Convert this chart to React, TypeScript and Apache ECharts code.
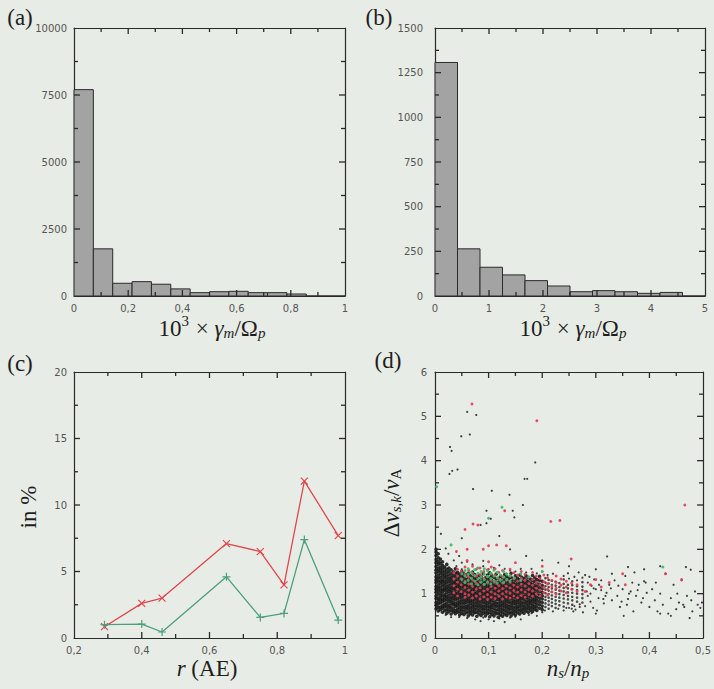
import React, { useEffect, useRef } from "react";
import * as echarts from "echarts";

// ---------- data ----------
const binWidthA = 1 / 14;
const countsA = [7700, 1760, 475, 535, 440, 265, 125, 160, 175, 125, 125, 75, 0, 0];
const binWidthB = 5 / 12;
const countsB = [1307, 264, 161, 118, 86, 56, 24, 30, 24, 15, 20, 0];

const rAE = [0.29, 0.4, 0.46, 0.65, 0.75, 0.82, 0.88, 0.98];
const redPct = [0.85, 2.6, 3.0, 7.1, 6.5, 4.0, 11.8, 7.7];
const greenPct = [1.0, 1.05, 0.45, 4.6, 1.55, 1.85, 7.4, 1.35];

// panel (d): columns of [x, y-values]
const blackCols: [number, number[]][] = [
  [0.002, [0.66,0.74,0.8,0.89,0.95,1.03,1.1,1.16,1.25,1.31,1.38,1.47,1.53,1.61,1.7,1.77,1.86,1.94,2.0]],
  [0.006, [0.61,0.69,0.77,0.84,0.9,0.99,1.06,1.13,1.2,1.28,1.35,1.42,1.5,1.57,1.66,1.73,1.81,1.9]],
  [0.010, [0.64,0.7,0.79,0.86,0.93,1.0,1.08,1.15,1.23,1.29,1.37,1.45,1.52,1.6,1.69,1.78]],
  [0.014, [0.58,0.67,0.73,0.82,0.88,0.96,1.04,1.1,1.18,1.26,1.32,1.4,1.48,1.56,1.64,1.72]],
  [0.018, [0.62,0.7,0.76,0.85,0.92,0.98,1.07,1.13,1.21,1.28,1.36,1.43,1.51,1.6]],
  [0.022, [0.56,0.64,0.72,0.79,0.87,0.94,1.02,1.09,1.16,1.24,1.31,1.39,1.47,1.55,1.66]],
  [0.026, [0.6,0.68,0.74,0.83,0.9,0.97,1.05,1.12,1.19,1.27,1.34,1.42,1.5,1.58]],
  [0.030, [0.54,0.63,0.7,0.78,0.85,0.92,1.0,1.07,1.14,1.22,1.3,1.37,1.45,1.54]],
  [0.034, [0.59,0.66,0.75,0.81,0.89,0.96,1.03,1.11,1.18,1.25,1.33,1.41,1.49]],
  [0.038, [0.55,0.62,0.71,0.77,0.86,0.93,1.0,1.08,1.15,1.23,1.29,1.38,1.46,1.56]],
  [0.042, [0.58,0.65,0.73,0.8,0.88,0.95,1.02,1.1,1.17,1.24,1.32,1.4,1.48]],
  [0.046, [0.52,0.6,0.68,0.76,0.83,0.91,0.98,1.06,1.13,1.2,1.28,1.36,1.44]],
  [0.050, [0.56,0.64,0.71,0.79,0.86,0.94,1.01,1.08,1.16,1.23,1.31,1.39,1.5]],
  [0.054, [0.53,0.61,0.69,0.77,0.84,0.92,0.99,1.06,1.14,1.21,1.29,1.37,1.45]],
  [0.058, [0.57,0.65,0.72,0.8,0.87,0.95,1.02,1.1,1.17,1.24,1.32,1.42]],
  [0.062, [0.5,0.59,0.67,0.74,0.82,0.89,0.97,1.04,1.11,1.19,1.27,1.35,1.46]],
  [0.066, [0.55,0.63,0.7,0.78,0.85,0.93,1.0,1.07,1.15,1.22,1.3,1.4]],
  [0.070, [0.52,0.6,0.68,0.75,0.83,0.9,0.98,1.05,1.12,1.2,1.28,1.37,1.48]],
  [0.074, [0.57,0.64,0.72,0.79,0.87,0.94,1.01,1.09,1.16,1.24,1.33,1.43]],
  [0.078, [0.49,0.58,0.66,0.73,0.81,0.88,0.96,1.03,1.1,1.18,1.26,1.35]],
  [0.082, [0.54,0.62,0.7,0.77,0.85,0.92,0.99,1.07,1.14,1.22,1.3,1.41]],
  [0.086, [0.51,0.59,0.67,0.74,0.82,0.89,0.97,1.04,1.12,1.2,1.28,1.38]],
  [0.090, [0.56,0.64,0.71,0.79,0.86,0.94,1.01,1.08,1.16,1.24,1.33,1.45]],
  [0.094, [0.5,0.58,0.66,0.73,0.81,0.88,0.96,1.03,1.11,1.19,1.27,1.36]],
  [0.098, [0.55,0.62,0.7,0.77,0.85,0.92,1.0,1.07,1.15,1.23,1.31,1.42]],
  [0.102, [0.48,0.57,0.65,0.72,0.8,0.87,0.95,1.02,1.1,1.18,1.26,1.35,1.47]],
  [0.106, [0.53,0.61,0.69,0.76,0.84,0.91,0.99,1.06,1.14,1.22,1.3,1.4]],
  [0.110, [0.5,0.58,0.66,0.74,0.81,0.89,0.96,1.04,1.11,1.19,1.27,1.37]],
  [0.114, [0.55,0.63,0.71,0.78,0.86,0.93,1.01,1.08,1.16,1.24,1.33,1.44]],
  [0.118, [0.47,0.56,0.64,0.72,0.79,0.87,0.94,1.02,1.09,1.17,1.25,1.34]],
  [0.122, [0.52,0.6,0.68,0.75,0.83,0.9,0.98,1.05,1.13,1.21,1.29,1.39]],
  [0.126, [0.49,0.57,0.65,0.73,0.8,0.88,0.95,1.03,1.1,1.18,1.26,1.36]],
  [0.130, [0.54,0.62,0.7,0.77,0.85,0.92,1.0,1.07,1.15,1.23,1.32,1.43]],
  [0.134, [0.51,0.59,0.67,0.74,0.82,0.9,0.97,1.05,1.12,1.2,1.28,1.38]],
  [0.138, [0.56,0.64,0.71,0.79,0.86,0.94,1.01,1.09,1.17,1.25,1.34]],
  [0.142, [0.5,0.58,0.66,0.73,0.81,0.89,0.96,1.04,1.11,1.19,1.27,1.37,1.46]],
  [0.146, [0.55,0.63,0.7,0.78,0.85,0.93,1.0,1.08,1.16,1.24,1.32]],
  [0.150, [0.52,0.6,0.68,0.76,0.83,0.91,0.98,1.06,1.13,1.21,1.3,1.4]],
  [0.154, [0.57,0.65,0.72,0.8,0.87,0.95,1.02,1.1,1.18,1.26,1.35]],
  [0.158, [0.54,0.62,0.7,0.77,0.85,0.92,1.0,1.08,1.15,1.23,1.31,1.42]],
  [0.162, [0.59,0.66,0.74,0.81,0.89,0.96,1.04,1.12,1.2,1.28,1.37]],
  [0.166, [0.56,0.64,0.71,0.79,0.87,0.94,1.02,1.09,1.17,1.25,1.34]],
  [0.170, [0.61,0.68,0.76,0.83,0.91,0.98,1.06,1.14,1.22,1.3,1.4]],
  [0.174, [0.58,0.66,0.73,0.81,0.88,0.96,1.03,1.11,1.19,1.27,1.36]],
  [0.178, [0.63,0.7,0.78,0.85,0.93,1.0,1.08,1.16,1.24,1.33]],
  [0.182, [0.6,0.68,0.75,0.83,0.9,0.98,1.05,1.13,1.21,1.3,1.41]],
  [0.186, [0.65,0.72,0.8,0.87,0.95,1.02,1.1,1.18,1.27,1.36]],
  [0.190, [0.62,0.7,0.77,0.85,0.92,1.0,1.08,1.16,1.24,1.32]],
  [0.195, [0.67,0.75,0.82,0.9,0.97,1.05,1.13,1.21,1.3,1.39]],
  [0.200, [0.64,0.72,0.8,0.88,0.95,1.03,1.11,1.19,1.28]]
];
// thinner continuation of the cloud
const blackMidCols: [number, number[]][] = [
  [0.206, [0.7,0.78,0.86,0.93,1.01,1.09,1.17,1.25,1.35]],
  [0.212, [0.66,0.75,0.83,0.91,0.99,1.07,1.15,1.23,1.31]],
  [0.218, [0.72,0.8,0.88,0.96,1.04,1.12,1.2,1.29]],
  [0.225, [0.68,0.77,0.85,0.93,1.01,1.09,1.18,1.27]],
  [0.232, [0.74,0.83,0.91,0.99,1.07,1.15,1.24]],
  [0.240, [0.71,0.8,0.89,0.97,1.05,1.13,1.22,1.32]],
  [0.248, [0.78,0.87,0.95,1.03,1.12,1.2]],
  [0.256, [0.75,0.85,0.93,1.02,1.1,1.19,1.28]],
  [0.265, [0.82,0.91,1.0,1.08,1.17]],
  [0.275, [0.8,0.9,0.99,1.08,1.16,1.26]]
];

const blackSparse = [
  [0.02,0.52],[0.045,0.47],[0.06,0.45],[0.09,0.46],[0.1,0.42],[0.12,0.44],[0.14,0.46],[0.15,0.48],[0.175,0.52],[0.18,0.56],[0.2,0.58],[0.205,0.62],[0.22,0.6],[0.23,0.66],[0.24,0.62],[0.25,0.68],[0.26,0.72],[0.27,0.7],[0.03,0.47],[0.075,0.42],[0.11,0.38],[0.16,0.42],[0.19,0.5],[0.13,0.36],[0.085,0.38],
  [0.05,1.55],[0.07,1.5],[0.08,1.58],[0.09,1.62],[0.1,1.55],[0.11,1.58],[0.12,1.64],[0.13,1.56],[0.14,1.52],[0.15,1.5],[0.16,1.56],[0.17,1.48],[0.18,1.56],[0.19,1.46],[0.2,1.5],[0.21,1.42],[0.22,1.45],[0.04,1.62],[0.05,1.7],[0.035,1.75],[0.045,1.85],[0.025,1.9],[0.02,2.02],[0.06,1.72],[0.07,1.66],[0.09,1.74],
  [0.24,1.4],[0.245,0.68],[0.25,1.34],[0.255,0.66],[0.26,1.38],[0.265,1.3],[0.27,0.76],[0.275,1.36],[0.28,0.72],[0.285,1.25],[0.29,1.0],[0.295,0.68],[0.3,1.1],[0.305,0.9],[0.31,1.3],[0.315,0.78],[0.32,1.02],[0.325,1.2],[0.33,0.85],[0.268,1.48],[0.28,1.42],[0.292,1.18],[0.302,0.62],[0.31,1.08],[0.258,0.6],[0.248,1.46],[0.262,0.64],[0.285,0.95],[0.283,1.05],[0.297,1.32],[0.318,0.95],[0.328,1.12],[0.276,0.58],[0.29,0.82],[0.3,0.55],[0.296,1.12],[0.306,1.2],[0.314,0.88],[0.288,1.38],
  [0.335,1.3],[0.34,0.95],[0.345,0.7],[0.35,1.1],[0.355,1.4],[0.36,0.88],[0.365,1.05],[0.37,0.6],[0.375,0.95],[0.38,1.2],[0.385,0.8],[0.39,1.28],[0.393,1.25],[0.395,1.02],[0.4,0.7],[0.342,1.18],[0.358,0.75],[0.368,1.25],[0.378,1.08],[0.388,0.9],[0.352,0.5],[0.372,1.48],[0.348,0.82],[0.362,1.0],
  [0.405,1.1],[0.41,0.85],[0.415,0.6],[0.42,1.0],[0.425,0.75],[0.43,1.45],[0.435,0.55],[0.44,0.9],[0.445,1.2],[0.45,0.65],[0.455,0.8],[0.46,1.3],[0.463,0.75],[0.465,0.7],[0.47,0.95],[0.475,0.45],[0.48,0.6],[0.485,1.05],[0.49,0.75],[0.495,0.68],[0.498,0.8],[0.468,1.6],[0.412,1.25],[0.452,1.0],[0.478,0.85],[0.42,0.55],[0.44,0.5],
  [0.027,3.7],[0.049,4.55],[0.065,4.59],[0.028,4.31],[0.031,4.22],[0.032,3.77],[0.071,3.36],[0.106,3.32],[0.139,3.23],[0.187,3.96],[0.167,3.59],[0.172,3.59],[0.164,3.0],[0.145,2.87],[0.096,2.87],[0.321,1.84],[0.477,1.54],[0.096,2.59],[0.104,2.69],[0.077,5.03],[0.06,5.1],[0.042,3.8],[0.085,2.55],[0.148,2.72],[0.011,2.35],[0.05,2.25],[0.12,2.3],[0.14,2.0],[0.17,1.85],[0.2,1.75],[0.23,1.7],[0.25,1.62],[0.3,1.55],[0.36,1.6],[0.42,1.62],[0.39,1.55],[0.33,1.45]
];

const redCols: [number, number[]][] = [
  [0.035, [1.02,1.18,1.33,1.47]],
  [0.042, [0.95,1.1,1.26,1.4,1.55]],
  [0.049, [1.05,1.2,1.34,1.5]],
  [0.056, [0.92,1.0,1.14,1.28,1.44,1.6]],
  [0.063, [0.97,1.08,1.22,1.37,1.52]],
  [0.070, [0.9,1.03,1.16,1.31,1.46,1.62]],
  [0.077, [0.95,1.1,1.24,1.4,1.55]],
  [0.084, [0.88,1.0,1.13,1.27,1.43,1.58]],
  [0.091, [0.93,1.06,1.2,1.35,1.5]],
  [0.098, [0.87,0.98,1.1,1.24,1.38,1.54]],
  [0.105, [0.92,1.04,1.16,1.3,1.45,1.6]],
  [0.112, [0.89,1.0,1.12,1.26,1.41,1.56]],
  [0.119, [0.94,1.06,1.18,1.33,1.48]],
  [0.126, [0.88,1.0,1.11,1.24,1.38,1.52]],
  [0.133, [0.93,1.05,1.17,1.3,1.45]],
  [0.140, [0.9,1.01,1.13,1.26,1.4,1.55]],
  [0.147, [0.95,1.07,1.19,1.33,1.47]],
  [0.154, [0.91,1.03,1.15,1.28,1.42]],
  [0.161, [0.96,1.09,1.21,1.35,1.5]],
  [0.168, [0.92,1.04,1.17,1.3,1.44]],
  [0.175, [0.98,1.1,1.23,1.37]],
  [0.182, [0.94,1.06,1.19,1.32,1.48]],
  [0.189, [1.0,1.12,1.25,1.4]],
  [0.196, [0.95,1.08,1.2,1.34]],
  [0.203, [1.02,1.14,1.27,1.42]],
  [0.210, [0.97,1.1,1.22,1.36]],
  [0.218, [1.04,1.16,1.3]],
  [0.226, [0.99,1.12,1.25,1.4]],
  [0.235, [1.06,1.19,1.33]],
  [0.245, [1.02,1.15,1.28]],
  [0.255, [1.1,1.24]],
  [0.265, [1.05,1.2]]
];
const redOutliers = [
  [0.069,5.28],[0.19,4.9],[0.466,3.0],[0.13,2.87],[0.216,2.63],[0.233,2.65],[0.056,2.45],[0.071,2.57],[0.254,1.78],[0.133,2.08],[0.1,2.08],[0.08,2.55],[0.09,2.0],[0.115,2.1],[0.04,1.95],[0.06,2.0],[0.43,1.45],[0.46,1.32],[0.35,1.45],[0.29,1.2],[0.3,1.32],[0.31,1.15],[0.28,1.05],[0.355,1.2],[0.325,1.25],[0.06,1.75],[0.1,1.72],[0.15,1.7],[0.2,1.62]
];

const greenCols: [number, number[]][] = [
  [0.050, [1.32,1.45]],
  [0.056, [1.25,1.4,1.52]],
  [0.062, [1.3,1.44,1.56]],
  [0.068, [1.22,1.35,1.48]],
  [0.074, [1.28,1.41,1.54]],
  [0.080, [1.2,1.33,1.46,1.58]],
  [0.086, [1.26,1.38,1.5]],
  [0.092, [1.21,1.32,1.44,1.56]],
  [0.098, [1.27,1.39,1.51]],
  [0.104, [1.22,1.34,1.46]],
  [0.110, [1.28,1.4,1.53]],
  [0.116, [1.24,1.36,1.48]],
  [0.122, [1.3,1.42]],
  [0.128, [1.25,1.37,1.5]],
  [0.134, [1.32,1.44]],
  [0.140, [1.28,1.4]],
  [0.148, [1.35]],
  [0.160, [1.3,1.45]],
  [0.175, [1.38]]
];
const greenOutliers = [[0.003,3.41],[0.1,2.7],[0.425,1.6],[0.03,2.1],[0.125,2.95],[0.2,1.5]];

const ticksA = { xMin: 0, xMax: 1, xInt: 0.2, yMin: 0, yMax: 10000, yInt: 2500 };
const ticksB = { xMin: 0, xMax: 5, xInt: 1, yMin: 0, yMax: 1500, yInt: 250 };
const ticksC = { xMin: 0.2, xMax: 1, xInt: 0.2, yMin: 0, yMax: 20, yInt: 5 };
const ticksD = { xMin: 0, xMax: 0.5, xInt: 0.1, yMin: 0, yMax: 6, yInt: 1 };

// ---------- styling helpers ----------
const BG = "#e8ece6";
const AX = "#2a2a2a";
const SERIF = "'Liberation Serif', 'DejaVu Serif', serif";

const comma = (v: number) => {
  if (Math.abs(v - Math.round(v)) < 1e-9) return String(Math.round(v));
  return (Math.round(v * 100) / 100).toString().replace(".", ",");
};

const flat = (cols: [number, number[]][]) => {
  const out: number[][] = [];
  cols.forEach(([x, ys]) => ys.forEach((y) => out.push([x, y])));
  return out;
};

function oneAxis(g: number, pos: string, min: number, max: number, interval: number, label: any) {
  return {
    gridIndex: g,
    type: "value",
    position: pos,
    min,
    max,
    interval,
    axisLine: { show: true, onZero: false, lineStyle: { color: AX, width: 1.2 } },
    axisTick: { show: false },
    splitLine: { show: false },
    axisLabel: label,
  };
}

function axesFor(g: number, t: any, yLabelMargin: number) {
  const label = (m: number) => ({
    show: true,
    color: "#555",
    fontSize: 10,
    fontFamily: "'DejaVu Sans', sans-serif",
    formatter: comma,
    margin: m,
  });
  return {
    x: [
      oneAxis(g, "bottom", t.xMin, t.xMax, t.xInt, label(7)),
      oneAxis(g, "top", t.xMin, t.xMax, t.xInt, { show: false }),
    ],
    y: [
      oneAxis(g, "left", t.yMin, t.yMax, t.yInt, label(yLabelMargin)),
      oneAxis(g, "right", t.yMin, t.yMax, t.yInt, { show: false }),
    ],
  };
}

const histRender = (fill: string) => (params: any, api: any) => {
  const x0 = api.value(0);
  const x1 = api.value(1);
  const c = api.value(2);
  const p0 = api.coord([x0, c]);
  const p1 = api.coord([x1, 0]);
  return {
    type: "rect",
    shape: { x: p0[0], y: p0[1], width: p1[0] - p0[0], height: p1[1] - p0[1] },
    style: { fill, stroke: "#2a2a2a", lineWidth: 1 },
  };
};

// tick marks: one custom series per grid, side and size; each datum is [x, x, y]
// (same layout as the histogram data), drawn as a thin filled rect pointing inward
function tickSeriesFor(t: any, g: number) {
  const list: any[] = [];
  const W = 1.3;
  const sides = ["bottom", "top", "left", "right"];
  [1, 0].forEach((major) => {
    const L = major ? 6 : 4;
    sides.forEach((side) => {
      const rows: number[][] = [];
      if (side === "bottom" || side === "top") {
        const nx = Math.round((t.xMax - t.xMin) / (t.xInt / 2));
        for (let k = 1; k < nx; k++) {
          if ((k % 2 === 0) !== !!major) continue;
          const v = t.xMin + (k * t.xInt) / 2;
          rows.push([v, v, side === "bottom" ? t.yMin : t.yMax]);
        }
      } else {
        const ny = Math.round((t.yMax - t.yMin) / (t.yInt / 2));
        for (let k = 1; k < ny; k++) {
          if ((k % 2 === 0) !== !!major) continue;
          const v = t.yMin + (k * t.yInt) / 2;
          const xe = side === "left" ? t.xMin : t.xMax;
          rows.push([xe, xe, v]);
        }
      }
      list.push({
        type: "custom",
        xAxisIndex: 2 * g,
        yAxisIndex: 2 * g,
        silent: true,
        z: 20,
        encode: { x: [0, 1], y: 2 },
        data: rows,
        renderItem: (params: any, api: any) => {
          const p = api.coord([api.value(0), api.value(2)]);
          let shape: any;
          if (side === "bottom") shape = { x: p[0] - W / 2, y: p[1] - L, width: W, height: L };
          else if (side === "top") shape = { x: p[0] - W / 2, y: p[1], width: W, height: L };
          else if (side === "left") shape = { x: p[0], y: p[1] - W / 2, width: L, height: W };
          else shape = { x: p[0] - L, y: p[1] - W / 2, width: L, height: W };
          return { type: "rect", shape, style: { fill: AX } };
        },
      });
    });
  });
  return list;
}

const FS = 23;
const rich = {
  n: { fontFamily: SERIF, fontSize: FS, color: "#1e1e1e" },
  i: { fontFamily: SERIF, fontSize: FS, fontStyle: "italic", color: "#1e1e1e" },
  sup: { fontFamily: SERIF, fontSize: 15, color: "#1e1e1e", padding: [0, 1, 15, 0] },
  sub: { fontFamily: SERIF, fontSize: 15, fontStyle: "italic", color: "#1e1e1e", padding: [10, 0, 0, 0] },
  subr: { fontFamily: SERIF, fontSize: 15, color: "#1e1e1e", padding: [10, 0, 0, 0] },
};

function txt(text: string, x: number, y: number, rotation = 0) {
  return {
    type: "text",
    x,
    y,
    rotation,
    silent: true,
    style: { text, rich, align: "center", verticalAlign: "middle", fill: "#1e1e1e", font: `${FS}px ${SERIF}` },
  };
}

export default function App() {
  const ref = useRef<HTMLDivElement>(null);
  useEffect(() => {
    if (!ref.current) return;
    const chart = echarts.init(ref.current, undefined, { renderer: "svg" });

    const a = axesFor(0, ticksA, 7);
    const b = axesFor(1, ticksB, 12);
    const c = axesFor(2, ticksC, 7);
    const d = axesFor(3, ticksD, 8);

    const histA = countsA.map((v, i) => [i * binWidthA, (i + 1) * binWidthA, v]);
    const histB = countsB.map((v, i) => [i * binWidthB, (i + 1) * binWidthB, v]);

    const texts = [
      txt("{n|(a)}", 20, 17),
      txt("{n|(b)}", 379, 17),
      txt("{n|(c)}", 20, 363),
      txt("{n|(d)}", 388, 360),
      txt("{n|10}{sup|3}{n| × }{i|γ}{sub|m}{n|/Ω}{sub|p}", 212, 328),
      txt("{n|10}{sup|3}{n| × }{i|γ}{sub|m}{n|/Ω}{sub|p}", 573, 328),
      txt("{i|r}{n| (AE)}", 207, 668),
      txt("{i|n}{sub|s}{n|/}{i|n}{sub|p}", 568, 668),
      txt("{n|in %}", 28, 507, Math.PI / 2),
      txt("{n|Δ}{i|v}{sub|s,k}{n|/}{i|v}{subr|A}", 391, 503, Math.PI / 2),
    ];

    const tickSeries = [
      ...tickSeriesFor(ticksA, 0),
      ...tickSeriesFor(ticksB, 1),
      ...tickSeriesFor(ticksC, 2),
      ...tickSeriesFor(ticksD, 3),
    ];

    const option: any = {
      animation: false,
      backgroundColor: BG,
      grid: [
        { left: 74, top: 28, width: 271, height: 268 },
        { left: 435, top: 28, width: 270, height: 268 },
        { left: 74, top: 372, width: 271, height: 266 },
        { left: 435, top: 372, width: 270, height: 266 },
      ],
      xAxis: [...a.x, ...b.x, ...c.x, ...d.x],
      yAxis: [...a.y, ...b.y, ...c.y, ...d.y],
      series: [
        { type: "custom", xAxisIndex: 0, yAxisIndex: 0, renderItem: histRender("#a3a3a3"), encode: { x: [0, 1], y: 2 }, data: histA },
        { type: "custom", xAxisIndex: 2, yAxisIndex: 2, renderItem: histRender("#a3a3a3"), encode: { x: [0, 1], y: 2 }, data: histB },
        {
          type: "line", xAxisIndex: 4, yAxisIndex: 4,
          data: rAE.map((r, i) => [r, redPct[i]]),
          lineStyle: { color: "#e0474c", width: 1.3 },
          symbol: "path://M0,0L10,10M10,0L0,10", symbolSize: 7,
          itemStyle: { color: "rgba(0,0,0,0)", borderColor: "#e0474c", borderWidth: 1.2 },
        },
        {
          type: "line", xAxisIndex: 4, yAxisIndex: 4,
          data: rAE.map((r, i) => [r, greenPct[i]]),
          lineStyle: { color: "#4c9f7a", width: 1.3 },
          symbol: "path://M5,0L5,10M0,5L10,5", symbolSize: 8,
          itemStyle: { color: "rgba(0,0,0,0)", borderColor: "#4c9f7a", borderWidth: 1.2 },
        },
        { type: "scatter", xAxisIndex: 6, yAxisIndex: 6, data: blackSparse, symbol: "circle", symbolSize: 2.2, itemStyle: { color: "#222", opacity: 0.85 } },
        { type: "scatter", xAxisIndex: 6, yAxisIndex: 6, data: flat(blackMidCols), symbol: "circle", symbolSize: 2.6, itemStyle: { color: "#222", opacity: 0.8 } },
        { type: "scatter", xAxisIndex: 6, yAxisIndex: 6, data: flat(blackCols), symbol: "circle", symbolSize: 3.6, itemStyle: { color: "#151515", opacity: 0.88 } },
        { type: "scatter", xAxisIndex: 6, yAxisIndex: 6, data: [...flat(redCols), ...redOutliers], symbol: "circle", symbolSize: 2.9, itemStyle: { color: "#e63c55", opacity: 0.92 } },
        { type: "scatter", xAxisIndex: 6, yAxisIndex: 6, data: [...flat(greenCols), ...greenOutliers], symbol: "circle", symbolSize: 3, itemStyle: { color: "#3cb86a", opacity: 0.92 } },
        ...tickSeries,
      ],
      graphic: texts,
    };

    chart.setOption(option);
    return () => chart.dispose();
  }, []);

  return (
    <div ref={ref} style={{ position: "absolute", left: 0, top: 0, width: 714, height: 689, background: BG }} />
  );
}
